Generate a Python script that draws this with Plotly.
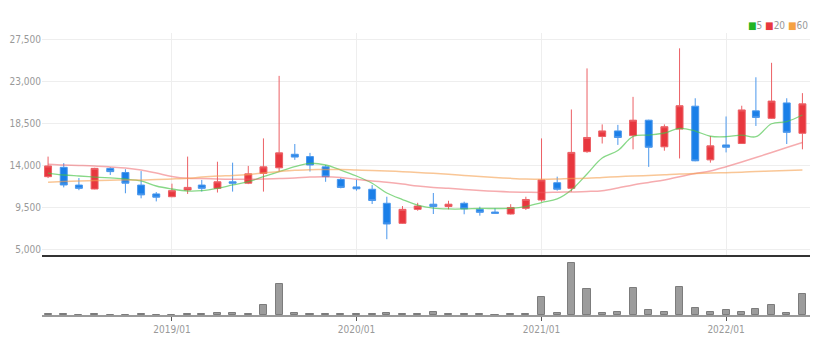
import pandas as pd
import plotly.graph_objects as go

# ---- data (monthly candles 2018/05 - 2022/06) ----
months = pd.date_range("2018-05-01", periods=50, freq="MS")

open_ = [12750, 13750, 11850, 11430, 13640, 13200, 11850, 10900, 10600, 11320,
         11850, 11500, 12200, 12050, 13100, 13700, 15150, 14900, 13800, 12450,
         11650, 11400, 9900, 7750, 9250, 9800, 9550, 9900, 9250, 8960,
         8750, 9360, 10250, 12100, 11500, 15430, 17050, 17650, 17150, 18800,
         15950, 17850, 20300, 14550, 16150, 16300, 19800, 19000, 20650, 17400]
high = [14900, 14200, 12600, 13700, 13750, 13550, 13350, 11100, 12000, 14900,
        12400, 14350, 14250, 13900, 16850, 23550, 16250, 15300, 14000, 12600,
        12400, 11850, 10600, 9600, 9950, 11000, 10170, 10070, 9530, 9360,
        9800, 10600, 16850, 12750, 19950, 24350, 18350, 18300, 21300, 18850,
        18350, 26500, 21150, 17100, 19200, 20350, 23400, 24950, 21150, 21700]
low = [12600, 11600, 11300, 11400, 12930, 10970, 10430, 10100, 10550, 10900,
       11150, 11050, 11150, 11950, 11150, 13300, 14550, 13300, 12200, 11500,
       11250, 9820, 6050, 7700, 9100, 8750, 9250, 8720, 8570, 8800,
       8700, 9180, 10070, 11250, 11150, 15300, 16300, 16150, 15680, 13800,
       15530, 14700, 14400, 14250, 15350, 16250, 18180, 18950, 16250, 15680]
close = [13900, 11860, 11500, 13640, 13290, 12050, 10800, 10550, 11250, 11600,
         11500, 12200, 12050, 13050, 13800, 15300, 14850, 14000, 12750, 11600,
         11450, 10200, 7680, 9250, 9600, 9550, 9800, 9300, 8930, 8820,
         9450, 10300, 12400, 11400, 15350, 16950, 17650, 16950, 18800, 15900,
         18100, 20350, 14450, 16050, 15900, 19900, 19100, 20850, 17500, 20550]

ma5 = [13140, 12930, 12820, 12710, 12610, 12500, 12290, 11750, 11430, 11210,
       11250, 11500, 11860, 12210, 12750, 13280, 13820, 14180, 14000, 13460,
       12820, 12040, 11000, 10300, 9710, 9390, 9290, 9290, 9340, 9340,
       9360, 9550, 9980, 10360, 11320, 13040, 14750, 15550, 17050, 17210,
       17430, 17930, 17640, 17080, 17030, 17210, 17030, 18420, 18660, 19360]
ma20 = [14080, 14000, 13950, 13890, 13790, 13680, 13460, 13140, 12770, 12570,
        12550, 12500, 12470, 12470, 12500, 12550, 12610, 12710, 12750, 12660,
        12470, 12290, 12150, 11960, 11750, 11590, 11500, 11380, 11270, 11180,
        11110, 11080, 11050, 11080, 11110, 11160, 11250, 11540, 11860, 12130,
        12390, 12750, 13090, 13360, 13820, 14320, 14800, 15340, 15870, 16410]
ma60 = [12150, 12230, 12290, 12340, 12370, 12390, 12390, 12450, 12500, 12570,
        12710, 12820, 12880, 12980, 13140, 13300, 13430, 13490, 13520, 13520,
        13460, 13410, 13360, 13280, 13200, 13110, 13000, 12880, 12770, 12660,
        12570, 12500, 12470, 12500, 12550, 12570, 12660, 12750, 12820, 12880,
        12960, 13040, 13090, 13140, 13180, 13230, 13300, 13360, 13410, 13460]

volume = [60000, 60000, 0, 60000, 0, 0, 60000, 0, 0, 60000,
          60000, 170000, 230000, 60000, 1000000, 3130000, 200000, 60000, 60000, 60000,
          60000, 60000, 200000, 60000, 60000, 300000, 60000, 60000, 60000, 0,
          60000, 130000, 1800000, 200000, 5170000, 2570000, 200000, 330000, 2730000, 470000,
          330000, 2800000, 670000, 300000, 470000, 300000, 630000, 1000000, 200000, 2070000]

price_ticks = [5000, 9500, 14000, 18500, 23000, 27500]
year_ticks = ["2019-01-01", "2020-01-01", "2021-01-01", "2022-01-01"]
year_labels = ["2019/01", "2020/01", "2021/01", "2022/01"]

# ---- styling ----
H = 354.0
def fy(px):
    return 1 - px / H

FONT = "Liberation Sans Narrow, DejaVu Sans Condensed, Roboto, sans-serif"
RED = "#e8373e"
BLUE = "#1a7fe8"
DAY = 24 * 3600 * 1000

fig = go.Figure()

fig.add_trace(go.Candlestick(
    x=months, open=open_, high=high, low=low, close=close,
    increasing=dict(line=dict(color="#ec6065", width=1), fillcolor=RED),
    decreasing=dict(line=dict(color="#4a97ec", width=1), fillcolor=BLUE),
    whiskerwidth=0, xaxis="x", yaxis="y", showlegend=False, name="",
))

fig.add_trace(go.Scatter(x=months, y=ma5, mode="lines",
                         line=dict(color="rgba(70,195,70,0.65)", width=1.3, shape="spline"),
                         xaxis="x", yaxis="y", showlegend=False, name="5"))
fig.add_trace(go.Scatter(x=months, y=ma20, mode="lines",
                         line=dict(color="rgba(238,90,95,0.5)", width=1.5, shape="spline"),
                         xaxis="x", yaxis="y", showlegend=False, name="20"))
fig.add_trace(go.Scatter(x=months, y=ma60, mode="lines",
                         line=dict(color="rgba(245,160,80,0.6)", width=1.5, shape="spline"),
                         xaxis="x", yaxis="y", showlegend=False, name="60"))

fig.add_trace(go.Bar(x=months, y=volume, width=14 * DAY,
                     marker=dict(color="#9c9c9c", line=dict(color="#7c7c7c", width=1)),
                     xaxis="x2", yaxis="y2", showlegend=False, name=""))

xrange = ["2018-04-19", "2022-06-16"]

fig.update_layout(
    width=827, height=354,
    margin=dict(l=42, r=17, t=0, b=0),
    paper_bgcolor="white", plot_bgcolor="white",
    font=dict(family=FONT, size=10, color="#999999"),
    bargap=0,
    xaxis=dict(domain=[0, 1], range=xrange, type="date",
               anchor="y", rangeslider=dict(visible=False),
               tickvals=year_ticks, showticklabels=False,
               showgrid=True, gridcolor="#eeeeee", gridwidth=1,
               showline=True, linecolor="#333333", linewidth=2,
               ticks="", zeroline=False),
    yaxis=dict(domain=[fy(255), fy(33)], range=[4357, 28143],
               tickvals=price_ticks, tickformat=",",
               showgrid=True, gridcolor="#eeeeee", gridwidth=1,
               zeroline=False, showline=False, ticks="",
               tickfont=dict(family=FONT, size=10, color="#999999")),
    xaxis2=dict(domain=[0, 1], range=xrange, type="date", anchor="y2",
                matches="x",
                tickvals=year_ticks, ticktext=year_labels,
                ticks="outside", ticklen=4, tickcolor="#555555", tickwidth=1,
                showgrid=False, showline=True, linecolor="#9a9a9a", linewidth=2,
                tickfont=dict(family=FONT, size=10, color="#999999"),
                zeroline=False),
    yaxis2=dict(domain=[fy(315), fy(258)], range=[0, 5700000],
                showgrid=False, showticklabels=False, zeroline=False,
                showline=False, ticks=""),
)

fig.add_annotation(
    xref="paper", yref="paper", x=1.0, y=fy(25.5),
    xanchor="right", yanchor="middle", showarrow=False,
    text=('<span style="color:#22b422">■</span>5 '
          '<span style="color:#e8383d">■</span>20 '
          '<span style="color:#f5a142">■</span>60'),
    font=dict(family=FONT, size=10, color="#999999"),
)

fig.write_html("out.html")
